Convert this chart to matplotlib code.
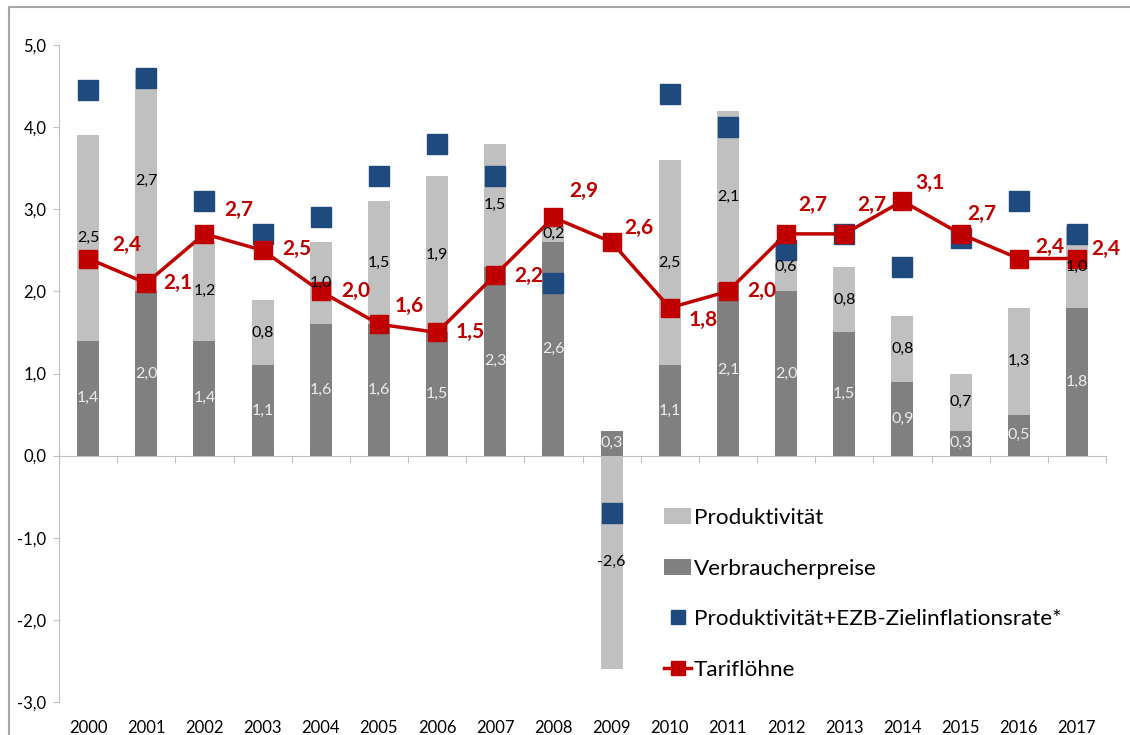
import numpy as np
import matplotlib.pyplot as plt
from matplotlib.lines import Line2D
from matplotlib.ticker import FuncFormatter, FixedLocator

plt.rcParams['font.family'] = ['Lato', 'DejaVu Sans']

# data
years = [str(y) for y in range(2000, 2018)]
verbraucherpreise = [1.4, 2.0, 1.4, 1.1, 1.6, 1.6, 1.5, 2.3, 2.6, 0.3,
                     1.1, 2.1, 2.0, 1.5, 0.9, 0.3, 0.5, 1.8]
produktivitaet = [2.5, 2.7, 1.2, 0.8, 1.0, 1.5, 1.9, 1.5, 0.2, -2.6,
                  2.5, 2.1, 0.6, 0.8, 0.8, 0.7, 1.3, 1.0]
prod_ezb = [4.45, 4.6, 3.1, 2.7, 2.9, 3.4, 3.8, 3.4, 2.1, -0.7,
            4.4, 4.0, 2.5, 2.7, 2.3, 2.65, 3.1, 2.7]
tarifloehne = [2.4, 2.1, 2.7, 2.5, 2.0, 1.6, 1.5, 2.2, 2.9, 2.6,
               1.8, 2.0, 2.7, 2.7, 3.1, 2.7, 2.4, 2.4]

# label offsets (points) for the Tariflöhne labels
lbl_dx = [28, 23, 25, 25, 25, 22, 24, 24, 22, 20, 24, 24, 19, 20, 20, 15, 22, 21]
lbl_dy = [10, 0, 17, 1, 0, 13, 0, -1, 19, 10, -9, 0, 21, 21, 13, 14, 8, 7]

DARK = '#808080'
LIGHT = '#c0c0c0'
BLUE = '#1f4a7e'
RED = '#c00000'

x = np.arange(len(years))
vp = np.array(verbraucherpreise)
pr = np.array(produktivitaet)
# Excel stacks negative values from zero
pr_bottom = np.where(pr >= 0, vp, 0)

fig = plt.figure(figsize=(11.3, 7.35), dpi=100)
ax = fig.add_axes([59 / 1130, 1 - 702 / 735, 1047 / 1130, 657 / 735])

w = 0.38
b_vp = ax.bar(x, vp, width=w, color=DARK, zorder=2, label='Verbraucherpreise')
b_pr = ax.bar(x, pr, width=w, bottom=pr_bottom, color=LIGHT, zorder=2,
              label='Produktivität')

fmt = lambda v: f'{v:.1f}'.replace('.', ',')
for rect, v in zip(b_vp, vp):
    ax.text(rect.get_x() + w / 2, v / 2, fmt(v), ha='center', va='center',
            fontsize=11.5, color='#ececec', zorder=7)
for rect, v, b in zip(b_pr, pr, pr_bottom):
    ax.text(rect.get_x() + w / 2, b + v / 2, fmt(v), ha='center', va='center',
            fontsize=11.5, color='black', zorder=7)

ax.plot(x, prod_ezb, linestyle='none', marker='s', markersize=14,
        color=BLUE, zorder=4, label='Produktivität+EZB-Zielinflationsrate*')
ax.plot(x, tarifloehne, color=RED, linewidth=2.5, marker='s', markersize=12.5,
        zorder=5, label='Tariflöhne')
for xi, v, dx, dy in zip(x, tarifloehne, lbl_dx, lbl_dy):
    ax.annotate(fmt(v), (xi, v), xytext=(dx, dy), textcoords='offset points',
                ha='center', va='center', fontsize=15, fontweight='bold',
                color=RED, zorder=6)

ax.set_ylim(-3, 5)
ax.set_xlim(-0.5, len(years) - 0.5)
ax.yaxis.set_major_locator(FixedLocator(np.arange(-3, 6)))
ax.yaxis.set_major_formatter(FuncFormatter(lambda v, p: fmt(v)))
ax.tick_params(axis='y', direction='out', length=4, color='#bfbfbf',
               labelsize=12, pad=5)
ax.set_xticks(x)
ax.set_xticklabels(years)
ax.tick_params(axis='x', length=0, labelsize=12, pad=13)
for s in ['top', 'right', 'bottom']:
    ax.spines[s].set_visible(False)
ax.spines['left'].set_color('#bfbfbf')

# category axis at zero with boundary tick marks
zero = ax.secondary_xaxis(3 / 8)
zero.set_xticks(np.arange(len(years) + 1) - 0.5)
zero.set_xticklabels([])
zero.tick_params(direction='out', length=5, color='#bfbfbf')
zero.spines['bottom'].set_color('#bfbfbf')

h, l = ax.get_legend_handles_labels()
order = [l.index('Produktivität'), l.index('Verbraucherpreise'),
         l.index('Produktivität+EZB-Zielinflationsrate*'), l.index('Tariflöhne')]
leg = ax.legend([h[i] for i in order], [l[i] for i in order],
                loc='upper left', bbox_to_anchor=(664 / 1130, 1 - 508 / 735),
                bbox_transform=fig.transFigure, frameon=False, fontsize=16.2,
                handlelength=1.2, handleheight=0.7, handletextpad=0.13,
                labelspacing=1.36, borderpad=0, borderaxespad=0,
                markerscale=0.75)

# outer chart frame
fig.add_artist(Line2D([9 / 1130, 9 / 1130], [0, 1 - 7 / 735],
                      transform=fig.transFigure, color='#a6a6a6', lw=1.5))
fig.add_artist(Line2D([9 / 1130, 1], [1 - 7 / 735, 1 - 7 / 735],
                      transform=fig.transFigure, color='#a6a6a6', lw=1.5))

fig.savefig('out.png', dpi=100)
